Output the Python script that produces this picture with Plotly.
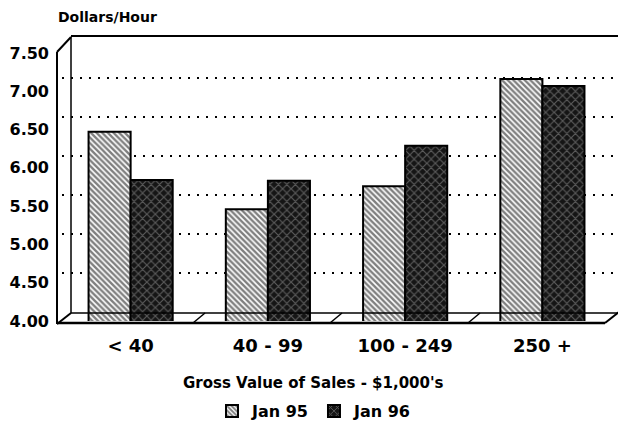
import plotly.graph_objects as go

# ---- data ----
categories = ["< 40", "40 - 99", "100 - 249", "250 +"]
jan95 = [6.47, 5.46, 5.76, 7.16]
jan96 = [5.84, 5.83, 6.29, 7.07]
y_ticks = [4.0, 4.5, 5.0, 5.5, 6.0, 6.5, 7.0, 7.5]
grid_vals = [4.5, 5.0, 5.5, 6.0, 6.5, 7.0]
series_names = ["Jan 95", "Jan 96"]

W, H = 626, 428
OFF = 8  # page body margin offset
# target screen positions of the plot area
SX0, SX1, SY0, SY1 = 62, 619, 53, 321
ML = SX0 - OFF
MR = W - (SX1 - OFF)
MT = SY0 - OFF
MB = H - (SY1 - OFF)
PW = W - ML - MR
PH = H - MT - MB
FONT = "DejaVu Sans"


def px(x):
    return (x - OFF - ML) / PW


def py(y):
    return (H - MB - (y - OFF)) / PH


fig = go.Figure()
fig.add_trace(go.Bar(
    x=categories, y=jan95, name=series_names[0],
    marker=dict(color="white", line=dict(color="black", width=2),
                pattern=dict(shape="\\", fgcolor="black", size=4, solidity=0.6)),
))
fig.add_trace(go.Bar(
    x=categories, y=jan96, name=series_names[1],
    marker=dict(color="#151515", line=dict(color="black", width=2),
                pattern=dict(shape="x", fgcolor="#a0a0a0", size=6, solidity=0.35)),
))
# back-wall grid (offset scale for pseudo-3D)
fig.add_trace(go.Scatter(x=[], y=[], yaxis="y2", showlegend=False, hoverinfo="skip"))

line = dict(color="black", width=2)
thin = dict(color="black", width=1.5)
shapes = []
def seg(x0, y0, x1, y1, ln=line, layer="above"):
    shapes.append(dict(type="line", xref="paper", yref="paper",
                       x0=px(x0), y0=py(y0), x1=px(x1), y1=py(y1), line=ln, layer=layer))

# cover grid on the left wall
shapes.append(dict(type="rect", xref="paper", yref="paper", x0=px(SX0), x1=px(79),
                   y0=py(312), y1=py(36), fillcolor="white", line=dict(width=0), layer="between"))
seg(57, 52, 57, 324)          # front left edge
seg(57, 52, 71, 37)           # left wall top
seg(71, 37, 71, 313, thin)    # back wall left
seg(71, 36, 619, 36)          # back wall top
seg(619, 36, 619, 312)        # back wall right
seg(619, 312, 605, 323)       # right floor edge
seg(57, 323, 605, 323, dict(color="black", width=2.5))  # front floor edge
seg(71, 313, 619, 313, thin)  # back floor edge
seg(57, 324, 71, 313)         # left floor edge
for b in (199, 336, 474):     # floor dividers
    seg(b - 6, 323, b + 6, 313, thin)

fig.update_layout(
    width=W, height=H,
    margin=dict(l=ML, r=MR, t=MT, b=MB, autoexpand=False),
    paper_bgcolor="white", plot_bgcolor="white",
    barmode="group", bargap=0.387, bargroupgap=0,
    font=dict(family=FONT, color="black", size=13, weight="bold"),
    xaxis=dict(range=[-0.5, 3.558], showgrid=False, showline=False, zeroline=False,
               ticks="", tickfont=dict(size=18, weight="bold"), ticklabelstandoff=12,
               automargin=False),
    yaxis=dict(range=[4, 7.5], tickvals=y_ticks, tickformat=".2f", showgrid=False,
               showline=False, zeroline=False, ticks="", automargin=False,
               tickfont=dict(size=16, weight="bold"), ticklabelstandoff=12),
    yaxis2=dict(overlaying="y", range=[3.885, 7.321], tickvals=grid_vals,
                showticklabels=False, showgrid=True, gridcolor="black", gridwidth=1.5,
                griddash="2px,7px", zeroline=False, showline=False, ticks=""),
    showlegend=True,
    legend=dict(orientation="h", x=px(314), xanchor="center", y=py(411), yanchor="middle",
                font=dict(size=16, weight="bold"), itemwidth=30, tracegroupgap=0,
                bgcolor="rgba(0,0,0,0)"),
    shapes=shapes,
    annotations=[
        dict(text="Dollars/Hour", xref="paper", yref="paper", x=px(56), y=py(17),
             xanchor="left", yanchor="middle", showarrow=False,
             font=dict(size=14, weight="bold")),
        dict(text="Gross Value of Sales - $1,000's", xref="paper", yref="paper",
             x=px(313), y=py(383), xanchor="center", yanchor="middle", showarrow=False,
             font=dict(size=15, weight="bold")),
    ],
    hovermode=False,
)

fig.write_html("out.html")
